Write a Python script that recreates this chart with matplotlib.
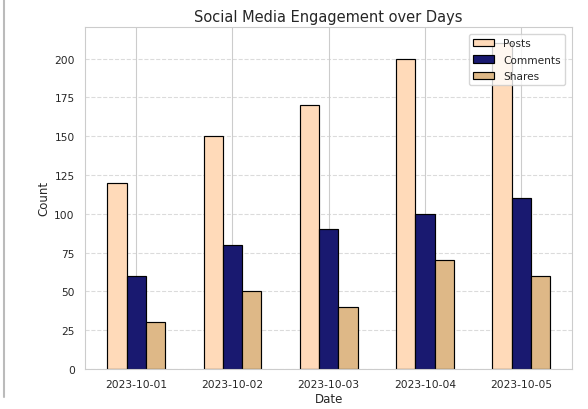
import matplotlib
matplotlib.use("Agg")
import matplotlib.pyplot as plt
import seaborn as sns
import numpy as np
from matplotlib.lines import Line2D

dates = ["2023-10-01", "2023-10-02", "2023-10-03", "2023-10-04", "2023-10-05"]
posts = [120, 150, 170, 200, 210]
comments = [60, 80, 90, 100, 110]
shares = [30, 50, 40, 70, 60]

sns.set_style("whitegrid")
plt.rcParams['font.family'] = ['DejaVu Sans']

fig = plt.figure(figsize=(5.88, 4.10), dpi=100)
ax = fig.add_axes([0.145, 0.098, 0.828, 0.834])

x = np.arange(len(dates))
w = 0.2
ax.bar(x - w, posts, w, label="Posts", color="peachpuff", edgecolor="black", linewidth=0.85)
ax.bar(x, comments, w, label="Comments", color="midnightblue", edgecolor="black", linewidth=0.85)
ax.bar(x + w, shares, w, label="Shares", color="burlywood", edgecolor="black", linewidth=0.85)

ax.set_xticks(x)
ax.set_xticklabels(dates)
ax.set_yticks(np.arange(0, 201, 25))
ax.yaxis.grid(True, linestyle="--", alpha=0.7, linewidth=0.8)
ax.xaxis.grid(True, linestyle="-", linewidth=0.8)
ax.set_axisbelow(True)
ax.set_title("Social Media Engagement over Days", fontsize=10.5, pad=4)
ax.set_xlabel("Date", fontsize=8.5, labelpad=2)
ax.set_ylabel("Count", fontsize=8.5, labelpad=3)
ax.tick_params(labelsize=7.7, pad=4)
ax.legend(loc="upper right", fontsize=7.6, borderpad=0.4, labelspacing=0.6,
          handlelength=2.0, borderaxespad=0.7)

fig.add_artist(Line2D([0.007, 0.007], [0.03, 1.0], transform=fig.transFigure, color="#bbbbbb", lw=1.5))

fig.savefig("out.png", dpi=100)
